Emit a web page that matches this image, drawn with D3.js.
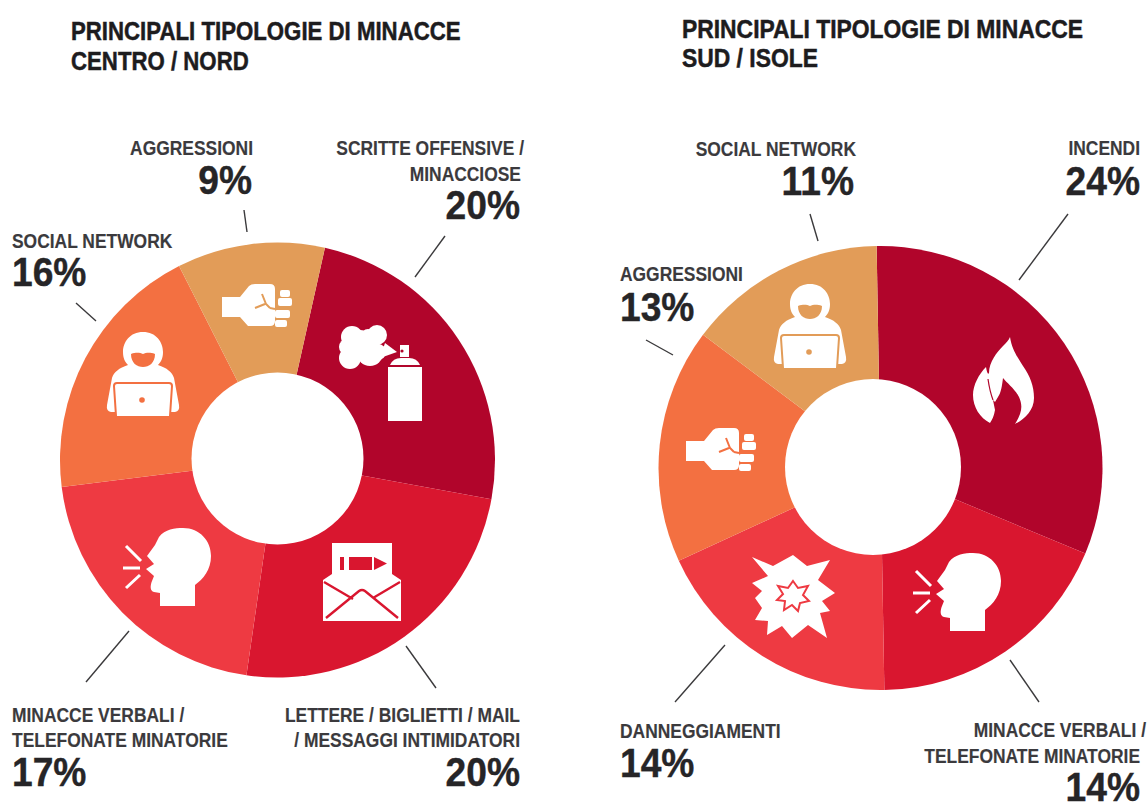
<!DOCTYPE html>
<html lang="it">
<head>
<meta charset="utf-8">
<title>Principali tipologie di minacce</title>
<script src="https://cdn.jsdelivr.net/npm/d3@7"></script>
<style>
  html, body { margin: 0; background: #fff; }
  svg { display: block; }
  text { font-family: "Liberation Sans", sans-serif; font-weight: bold; }
  .title { font-size: 26px; fill: #1d1c1e; stroke: #1d1c1e; stroke-width: .5; }
  .label { font-size: 21px; fill: #3b3a3d; stroke: #3b3a3d; stroke-width: .15; }
  .pct { font-size: 40px; fill: #262527; stroke: #262527; stroke-width: .4; }
</style>
</head>
<body>
<svg id="chart" width="1147" height="804" viewBox="0 0 1147 804"></svg>
<script>
// dati
const nordCategories = ["SCRITTE OFFENSIVE / MINACCIOSE", "LETTERE / BIGLIETTI / MAIL / MESSAGGI INTIMIDATORI",
  "MINACCE VERBALI / TELEFONATE MINATORIE", "SOCIAL NETWORK", "AGGRESSIONI"];
const nordValues = [20, 20, 17, 16, 9];
const sudCategories = ["INCENDI", "MINACCE VERBALI / TELEFONATE MINATORIE", "DANNEGGIAMENTI", "AGGRESSIONI", "SOCIAL NETWORK"];
const sudValues = [24, 14, 14, 13, 11];

const COLORS = ["#b1052b", "#d9162f", "#ee3a42", "#f37041", "#e29c58"];

// il font non ha una variante stretta: si comprime in orizzontale
const SCALE = { label: 0.83, pct: 0.93 };

// layout: una riga per fetta, nello stesso ordine dei dati
const nordLayout = {
  title: ["PRINCIPALI TIPOLOGIE DI MINACCE", "CENTRO / NORD"], titleX: 71, titleY: [40, 70], titleScale: 0.855,
  cx: 277.5, cy: 460, R: 217.5, hole: [277.5, 458.5, 86], start: 12.6,
  slices: [
    { icon: "spray", at: [381, 373], anchor: "end",
      lines: [["SCRITTE OFFENSIVE /", 524, 155], ["MINACCIOSE", 521, 181]], pct: [520, 219],
      leader: [445, 236, 415, 277] },
    { icon: "envelope", at: [362, 582], anchor: "end",
      lines: [["LETTERE / BIGLIETTI / MAIL", 520, 722], ["/ MESSAGGI INTIMIDATORI", 520, 747]], pct: [520, 786],
      leader: [406, 646, 436, 688] },
    { icon: "head", at: [167, 567], anchor: "start",
      lines: [["MINACCE VERBALI /", 12, 722], ["TELEFONATE MINATORIE", 12, 747]], pct: [12, 786],
      leader: [129, 631, 86, 682] },
    { icon: "hacker", at: [143, 373], anchor: "start",
      lines: [["SOCIAL NETWORK", 12, 248]], pct: [12, 286],
      leader: [76, 303, 96, 321] },
    { icon: "fist", at: [255, 307], anchor: "end",
      lines: [["AGGRESSIONI", 253, 155]], pct: [252, 194],
      leader: [244, 210, 247, 232] }
  ]
};
const sudLayout = {
  title: ["PRINCIPALI TIPOLOGIE DI MINACCE", "SUD / ISOLE"], titleX: 682, titleY: [38, 67], titleScale: 0.88,
  cx: 880.5, cy: 468, R: 222, hole: [873, 467, 88], start: -1,
  slices: [
    { icon: "flame", at: [1003, 380], anchor: "end",
      lines: [["INCENDI", 1140, 155]], pct: [1140, 195],
      leader: [1068, 214, 1019, 280] },
    { icon: "head", at: [957, 592], anchor: "end",
      lines: [["MINACCE VERBALI /", 1146, 737], ["TELEFONATE MINATORIE", 1140, 763]], pct: [1140, 801],
      leader: [1010, 660, 1039, 702] },
    { icon: "burst", at: [793, 597], anchor: "start",
      lines: [["DANNEGGIAMENTI", 620, 738]], pct: [620, 777],
      leader: [725, 645, 675, 702] },
    { icon: "fist", at: [719, 451], anchor: "start",
      lines: [["AGGRESSIONI", 620, 281]], pct: [620, 321],
      leader: [646, 340, 673, 355] },
    { icon: "hacker", at: [810, 325], anchor: "end",
      lines: [["SOCIAL NETWORK", 856, 156]], pct: [854, 195],
      leader: [810, 214, 818, 241] }
  ]
};

// icone bianche, coordinate locali centrate su 0,0
const ICONS = {
  fist(g, c) {
    g.append("path").attr("fill", "#fff")
      .attr("d", "M-33,-10 H-15 L-6,-21 Q-4,-23 0,-23 H15 Q20,-23 20,-18 V14 Q20,19 15,19 H-7 L-15,10 H-33Z");
    [[25, -17, 10, 7], [23, -9, 14, 8], [20, 3, 15, 8], [20, 13, 12, 7]].forEach(([x, y, w, h]) =>
      g.append("rect").attr("x", x).attr("y", y).attr("width", w).attr("height", h).attr("rx", 2).attr("fill", "#fff"));
    g.append("path").attr("fill", "none").attr("stroke", c).attr("stroke-width", 2)
      .attr("d", "M0,1 L10,-3 M7,-13 L11,-3 L15,1 M15,1 L20,2");
  },
  hacker(g, c) {
    g.append("path").attr("fill", "#fff")
      .attr("d", "M0,-41 C-13,-41 -20,-31 -20,-21 C-20,-15 -18,-11 -15,-8 C-24,-5 -29,-1 -31,5 L-36,32 Q-37,38 -32,39 H32 Q37,38 36,32 L31,5 C29,-1 24,-5 15,-8 C18,-11 20,-15 20,-21 C20,-31 13,-41 0,-41Z");
    g.append("path").attr("fill", c)
      .attr("d", "M-12,-19 C-6,-21 -3,-20 0,-19 C3,-20 6,-21 12,-19 C12,-10 6,-6 0,-6 C-6,-6 -12,-10 -12,-19Z");
    g.append("path").attr("fill", "#fff").attr("stroke", c).attr("stroke-width", 2)
      .attr("d", "M-27,43 L-29,13 Q-29,10 -26,10 H26 Q29,10 29,13 L27,43");
    g.append("circle").attr("cx", -1).attr("cy", 27).attr("r", 2.8).attr("fill", c);
  },
  spray(g, c) {
    g.append("rect").attr("x", 7).attr("y", -6).attr("width", 34).attr("height", 54).attr("fill", "#fff");
    g.append("path").attr("fill", "#fff").attr("d", "M9,-8 Q12,-15 20,-15 H28 Q36,-15 39,-8Z");
    g.append("rect").attr("x", 19).attr("y", -28).attr("width", 9).attr("height", 12).attr("fill", "#fff");
    g.append("circle").attr("cx", 21).attr("cy", -22).attr("r", 1.6).attr("fill", c);
    [[-29, -36, 11], [-4, -38, 10], [-31, -15, 11], [-11, -20, 13], [-21, -30, 13], [-34, -26, 8], [-3, -21, 8], [-13, -37, 7]].forEach(([x, y, r]) =>
      g.append("circle").attr("cx", x).attr("cy", y).attr("r", r).attr("fill", "#fff"));
    g.append("path").attr("fill", "#fff").attr("d", "M4,-30 L16,-21 L-1,-15Z");
  },
  envelope(g, c) {
    g.append("rect").attr("x", -30).attr("y", -39).attr("width", 60).attr("height", 49).attr("fill", "#fff");
    g.append("path").attr("fill", "#fff").attr("d", "M-39,-2 L-30,-8 V10 H30 V-8 L39,-2 V39 H-39Z");
    g.append("path").attr("fill", "none").attr("stroke", c).attr("stroke-width", 2.4)
      .attr("d", "M-38,0 L-9,17 M38,0 L11,16 M-36,36 L-3,9 Q0,7 3,9 L36,36");
    g.append("path").attr("fill", c)
      .attr("d", "M-22,-25 H-18 V-12 H-22Z M-13,-25 H10 V-12 H-13Z M12,-25 L25,-18.5 L12,-12Z");
  },
  head(g, c) {
    g.append("path").attr("fill", "#fff")
      .attr("d", "M-8,-30 C-2,-38 8,-39 16,-39 C33,-39 44,-26 44,-11 C44,3 36,12 28,18 V39 H-7 V26 L-13,25 C-17,24 -17,19 -15,14 L-13,9 L-21,2 L-13,-3 L-20,-11 L-12,-22Z");
    g.append("path").attr("fill", "none").attr("stroke", "#fff").attr("stroke-width", 3)
      .attr("d", "M-41,-21 L-26,-6 M-44,1 H-27 M-41,21 L-27,8");
  },
  flame(g, c) {
    g.append("path").attr("fill", "#fff")
      .attr("d", "M7,-43 C9,-30 14,-24 20,-14 C27,-4 31,6 31,18 C31,30 22,39 12,44 C19,33 20,26 16,17 C12,9 4,3 0,-2 C-1,6 -2,13 -5,17 L-8,22 L-10,20 L-8,30 C-9,36 -11,40 -13,43 C-23,38 -30,27 -30,15 C-30,5 -24,-6 -17,-13 C-16,-7 -15,-5 -14,-7 C-14,-18 -6,-28 0,-34 C3,-37 6,-40 7,-43Z");
    g.append("path").attr("fill", "none").attr("stroke", c).attr("stroke-width", 1.2)
      .attr("d", "M-15,-1 C-14,6 -13,12 -10,20");
  },
  burst(g, c) {
    g.append("path").attr("fill", "#fff")
      .attr("d", "M-41,-40 L-20,-31 L0,-42 L14,-31 L37,-37 L25,-17 L42,-4 L29,4 L37,14 L27,16 L34,41 L15,28 L-1,41 L-11,29 L-26,38 L-25,24 L-38,23 L-31,11 L-38,1 L-31,-6 L-41,-14 L-25,-21Z");
    g.append("path").attr("fill", "none").attr("stroke", c).attr("stroke-width", 2)
      .attr("d", "M0,-16 L5,-9 L15,-11 L10,-2 L16,4 L7,6 L5,14 L-1,8 L-9,13 L-8,4 L-16,3 L-10,-3 L-15,-11 L-5,-9Z");
  }
};

const svg = d3.select("#chart");

function putText(g, cls, txt, x, y, anchor, sx) {
  g.append("text").attr("class", cls)
    .attr("transform", `translate(${x},${y}) scale(${sx},1)`)
    .attr("text-anchor", anchor)
    .text(txt);
}

function drawDonut(values, layout) {
  const g = svg.append("g");
  const rad = Math.PI / 180;
  const pie = d3.pie().sort(null)
    .startAngle(layout.start * rad)
    .endAngle(layout.start * rad + 2 * Math.PI);
  const arc = d3.arc().innerRadius(0).outerRadius(layout.R);

  g.append("g").attr("transform", `translate(${layout.cx},${layout.cy})`)
    .selectAll("path")
    .data(pie(values))
    .join("path")
      .attr("d", arc)
      .attr("fill", (d, i) => COLORS[i]);

  g.append("circle")
    .attr("cx", layout.hole[0]).attr("cy", layout.hole[1]).attr("r", layout.hole[2])
    .attr("fill", "#fff");

  layout.slices.forEach((s, i) => {
    const ig = g.append("g").attr("transform", `translate(${s.at[0]},${s.at[1]})`);
    ICONS[s.icon](ig, COLORS[i]);

    g.append("line")
      .attr("x1", s.leader[0]).attr("y1", s.leader[1])
      .attr("x2", s.leader[2]).attr("y2", s.leader[3])
      .attr("stroke", "#3b3a3c").attr("stroke-width", 1.4);

    s.lines.forEach(([txt, x, y]) => putText(g, "label", txt, x, y, s.anchor, SCALE.label));
    putText(g, "pct", values[i] + "%", s.pct[0], s.pct[1], s.anchor, SCALE.pct);
  });

  layout.title.forEach((t, i) => putText(g, "title", t, layout.titleX, layout.titleY[i], "start", layout.titleScale));
}

drawDonut(nordValues, nordLayout);
drawDonut(sudValues, sudLayout);
</script>
</body>
</html>
